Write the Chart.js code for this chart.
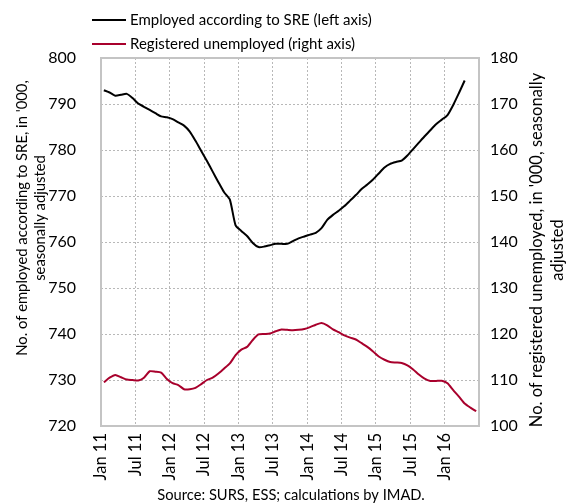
<!DOCTYPE html>
<html><head><meta charset="utf-8">
<script src="https://cdn.jsdelivr.net/npm/chart.js@4.4.1/dist/chart.umd.min.js"></script>
<style>html,body{margin:0;padding:0;background:#fff}#wrap{width:567px;height:504px;position:relative}</style>
</head><body><div id="wrap"><canvas id="c" width="567" height="504" style="width:567px;height:504px"></canvas></div>
<script>
const months = [
 'Jan 11','Feb 11','Mar 11','Apr 11','May 11','Jun 11','Jul 11','Aug 11','Sep 11','Oct 11','Nov 11','Dec 11',
 'Jan 12','Feb 12','Mar 12','Apr 12','May 12','Jun 12','Jul 12','Aug 12','Sep 12','Oct 12','Nov 12','Dec 12',
 'Jan 13','Feb 13','Mar 13','Apr 13','May 13','Jun 13','Jul 13','Aug 13','Sep 13','Oct 13','Nov 13','Dec 13',
 'Jan 14','Feb 14','Mar 14','Apr 14','May 14','Jun 14','Jul 14','Aug 14','Sep 14','Oct 14','Nov 14','Dec 14',
 'Jan 15','Feb 15','Mar 15','Apr 15','May 15','Jun 15','Jul 15','Aug 15','Sep 15','Oct 15','Nov 15','Dec 15',
 'Jan 16','Feb 16','Mar 16','Apr 16','May 16','Jun 16'
];
const tickLabels = ['Jan 11','Jul 11','Jan 12','Jul 12','Jan 13','Jul 13','Jan 14','Jul 14','Jan 15','Jul 15','Jan 16'];
const employed = [
 793.0,792.5,791.8,792.0,792.2,791.3,790.1,789.4,788.7,788.0,787.3,787.1,
 786.7,786.0,785.3,784.0,782.0,779.8,777.6,775.3,773.0,770.8,769.2,763.6,
 762.4,761.3,759.8,758.9,759.0,759.3,759.6,759.6,759.6,760.2,760.8,761.2,
 761.6,762.0,763.0,764.8,765.9,766.8,767.8,769.0,770.2,771.5,772.5,773.6,
 774.9,776.2,777.0,777.4,777.7,778.8,780.2,781.6,783.0,784.3,785.6,786.6,
 787.6,789.8,792.4,795.1
];
const unemployed = [
 109.5,110.5,111.1,110.6,110.1,110.0,109.9,110.5,111.9,111.8,111.6,110.2,
 109.3,108.9,108.0,108.0,108.3,109.1,110.0,110.5,111.4,112.5,113.6,115.4,
 116.6,117.2,118.7,119.9,120.0,120.1,120.6,121.0,120.9,120.8,120.9,121.1,
 121.5,122.0,122.4,121.9,121.0,120.4,119.7,119.2,118.8,118.0,117.2,116.2,
 115.1,114.4,113.9,113.8,113.7,113.2,112.3,111.2,110.3,109.8,109.8,109.85,
 109.3,107.8,106.4,104.9,104.0,103.2
];
const seriesNames = ['Employed according to SRE (left axis)','Registered unemployed (right axis)'];
const leftTitle = ["No. of employed according to SRE, in '000,", 'seasonally adjusted'];
const rightTitle = ["No. of registered unemployed, in '000, seasonally", 'adjusted'];
const sourceText = 'Source: SURS, ESS; calculations by IMAD.';

const FONT = 'Lato';
const RED = '#a8002c';

const decor = {
  id: 'decor',
  beforeDatasetsDraw(chart) {
    const {ctx, chartArea: a} = chart;
    ctx.save();
    ctx.strokeStyle = '#c4c4c4';
    ctx.lineWidth = 2;
    ctx.strokeRect(a.left, a.top, a.right - a.left, a.bottom - a.top);
    ctx.restore();
  },
  afterDraw(chart) {
    const {ctx} = chart;
    ctx.save();
    ctx.fillStyle = '#000';
    ctx.font = '15px ' + FONT;
    const ds = chart.data.datasets;
    const ly = [20, 44];
    ds.forEach((d, i) => {
      ctx.strokeStyle = d.borderColor;
      ctx.lineWidth = 2;
      ctx.beginPath(); ctx.moveTo(92, ly[i]); ctx.lineTo(126, ly[i]); ctx.stroke();
      ctx.textAlign = 'left'; ctx.textBaseline = 'middle';
      ctx.fillText(d.label, 130, ly[i]);
    });
    const drawRot = (lines, xs, cy, size) => {
      ctx.font = size + 'px ' + FONT;
      lines.forEach((t, i) => {
        ctx.save();
        ctx.translate(xs[i], cy);
        ctx.rotate(-Math.PI / 2);
        ctx.textAlign = 'center'; ctx.textBaseline = 'middle';
        ctx.fillText(t, 0, 0);
        ctx.restore();
      });
    };
    drawRot(leftTitle, [22, 40], 218, 14.8);
    drawRot(rightTitle, [537, 558], 250, 16.5);
    ctx.font = '14.7px ' + FONT;
    ctx.textAlign = 'center'; ctx.textBaseline = 'middle';
    ctx.fillText(sourceText, 291, 495);
    ctx.restore();
  }
};

new Chart(document.getElementById('c'), {
  type: 'line',
  data: {
    datasets: [
      { label: seriesNames[0], data: employed.map((v, i) => ({x: i + 0.5, y: v})), yAxisID: 'y',
        borderColor: '#000', borderWidth: 2, pointRadius: 0, tension: 0.2, fill: false },
      { label: seriesNames[1], data: unemployed.map((v, i) => ({x: i + 0.5, y: v})), yAxisID: 'y1',
        borderColor: RED, borderWidth: 2, pointRadius: 0, tension: 0.2, fill: false }
    ]
  },
  options: {
    responsive: false,
    animation: false,
    devicePixelRatio: 1,
    layout: { padding: { top: 58, left: 0, right: 0, bottom: 0 } },
    plugins: { legend: { display: false }, title: { display: false }, tooltip: { enabled: false } },
    scales: {
      x: {
        type: 'linear', min: 0, max: months.length,
        afterFit(s) { s.height = 78; },
        afterBuildTicks(s) { s.ticks = []; for (let v = 0; v <= months.length; v += 6) s.ticks.push({value: v}); },
        ticks: {
          autoSkip: false, minRotation: 90, maxRotation: 90, padding: 7, color: '#000',
          font: { family: FONT, size: 16.5 },
          callback: (v) => { const k = v / 6; return tickLabels[k] !== undefined ? tickLabels[k] : ''; }
        },
        grid: { color: '#b8b8b8', lineWidth: 1, drawTicks: false },
        border: { display: false, dash: [2, 2] }
      },
      y: {
        position: 'left', min: 720, max: 800,
        afterFit(s) { s.width = 101; },
        ticks: { stepSize: 10, padding: 25, color: '#000', font: { family: FONT, size: 16 } },
        grid: { color: '#b8b8b8', lineWidth: 1, drawTicks: false },
        border: { display: false, dash: [2, 2] }
      },
      y1: {
        position: 'right', min: 100, max: 180,
        afterFit(s) { s.width = 88; },
        ticks: { stepSize: 10, padding: 11, color: '#000', font: { family: FONT, size: 16 } },
        grid: { drawOnChartArea: false, drawTicks: false },
        border: { display: false }
      }
    }
  },
  plugins: [decor]
});
</script>
</body></html>
